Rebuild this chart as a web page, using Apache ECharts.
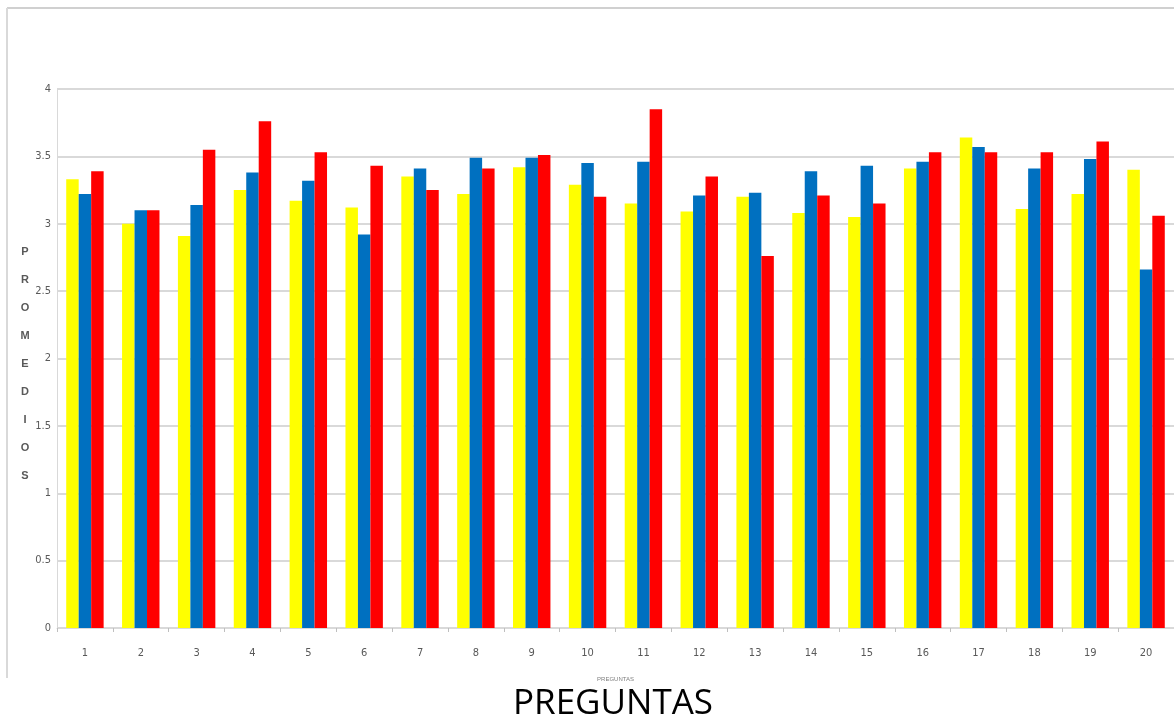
<!DOCTYPE html>
<html>
<head>
<meta charset="utf-8">
<script src="https://cdn.jsdelivr.net/npm/echarts@6/dist/echarts.min.js"></script>
<style>html,body{margin:0;padding:0;background:#fff;}#c{width:1174px;height:721px;}</style>
</head>
<body>
<div id="c"></div>
<script>
const categories = ['1','2','3','4','5','6','7','8','9','10','11','12','13','14','15','16','17','18','19','20'];
const seriesYellow = [3.33,3.00,2.91,3.25,3.17,3.12,3.35,3.22,3.42,3.29,3.15,3.09,3.20,3.08,3.05,3.41,3.64,3.11,3.22,3.40];
const seriesBlue   = [3.22,3.10,3.14,3.38,3.32,2.92,3.41,3.49,3.49,3.45,3.46,3.21,3.23,3.39,3.43,3.46,3.57,3.41,3.48,2.66];
const seriesRed    = [3.39,3.10,3.55,3.76,3.53,3.43,3.25,3.41,3.51,3.20,3.85,3.35,2.76,3.21,3.15,3.53,3.53,3.53,3.61,3.06];
const yTicks = {min: 0, max: 4, interval: 0.5};
const yName = 'PROMEDIOS';
const xName = 'PREGUNTAS';

const chart = echarts.init(document.getElementById('c'), null, {renderer: 'canvas'});
const mk = (name, data, color) => ({
  name, type: 'bar', data, barGap: '0%', barCategoryGap: '33%',
  itemStyle: {color}
});
chart.setOption({
  animation: false,
  backgroundColor: '#ffffff',
  grid: {left: 57, right: -3, top: 89, bottom: 93},
  xAxis: {
    type: 'category', data: categories,
    axisLine: {show: true, lineStyle: {color: '#d9d9d9', width: 1}},
    axisTick: {show: true, alignWithLabel: false, length: 4, lineStyle: {color: '#bfbfbf'}},
    axisLabel: {color: '#595959', fontSize: 11, fontFamily: 'Liberation Sans Narrow, DejaVu Sans Condensed, sans-serif', margin: 20},
    name: xName, nameLocation: 'middle', nameGap: 48,
    nameTextStyle: {color: '#7f7f7f', fontSize: 6, fontFamily: 'Liberation Sans Narrow, sans-serif'}
  },
  yAxis: {
    type: 'value', min: yTicks.min, max: yTicks.max, interval: yTicks.interval,
    axisLine: {show: true, lineStyle: {color: '#d9d9d9', width: 1}},
    axisTick: {show: false},
    splitLine: {show: true, lineStyle: {color: '#d9d9d9', width: 2}},
    axisLabel: {color: '#595959', fontSize: 11, fontFamily: 'Liberation Sans Narrow, DejaVu Sans Condensed, sans-serif', margin: 6}
  },
  series: [
    mk('A', seriesYellow, '#ffff00'),
    mk('B', seriesBlue, '#0070c0'),
    mk('C', seriesRed, '#ff0000')
  ],
  graphic: [
    {type: 'line', shape: {x1: 7, y1: 8, x2: 1174, y2: 8}, style: {stroke: '#d0d0d0', lineWidth: 2}, z: 10},
    {type: 'line', shape: {x1: 7, y1: 8, x2: 7, y2: 678}, style: {stroke: '#d9d9d9', lineWidth: 2}, z: 10},
    {type: 'text', x: 25, y: 364, style: {text: yName.split('').join('\n'), fontSize: 11, fontWeight: 'bold', lineHeight: 28, fill: '#595959', align: 'center', verticalAlign: 'middle', fontFamily: 'Liberation Sans Narrow, sans-serif'}, z: 10},
    {type: 'text', x: 613, y: 704, style: {text: xName, fontSize: 35, fill: '#000000', align: 'center', verticalAlign: 'middle', fontFamily: 'Open Sans, Noto Sans, sans-serif'}, z: 10}
  ]
});
</script>
</body>
</html>
